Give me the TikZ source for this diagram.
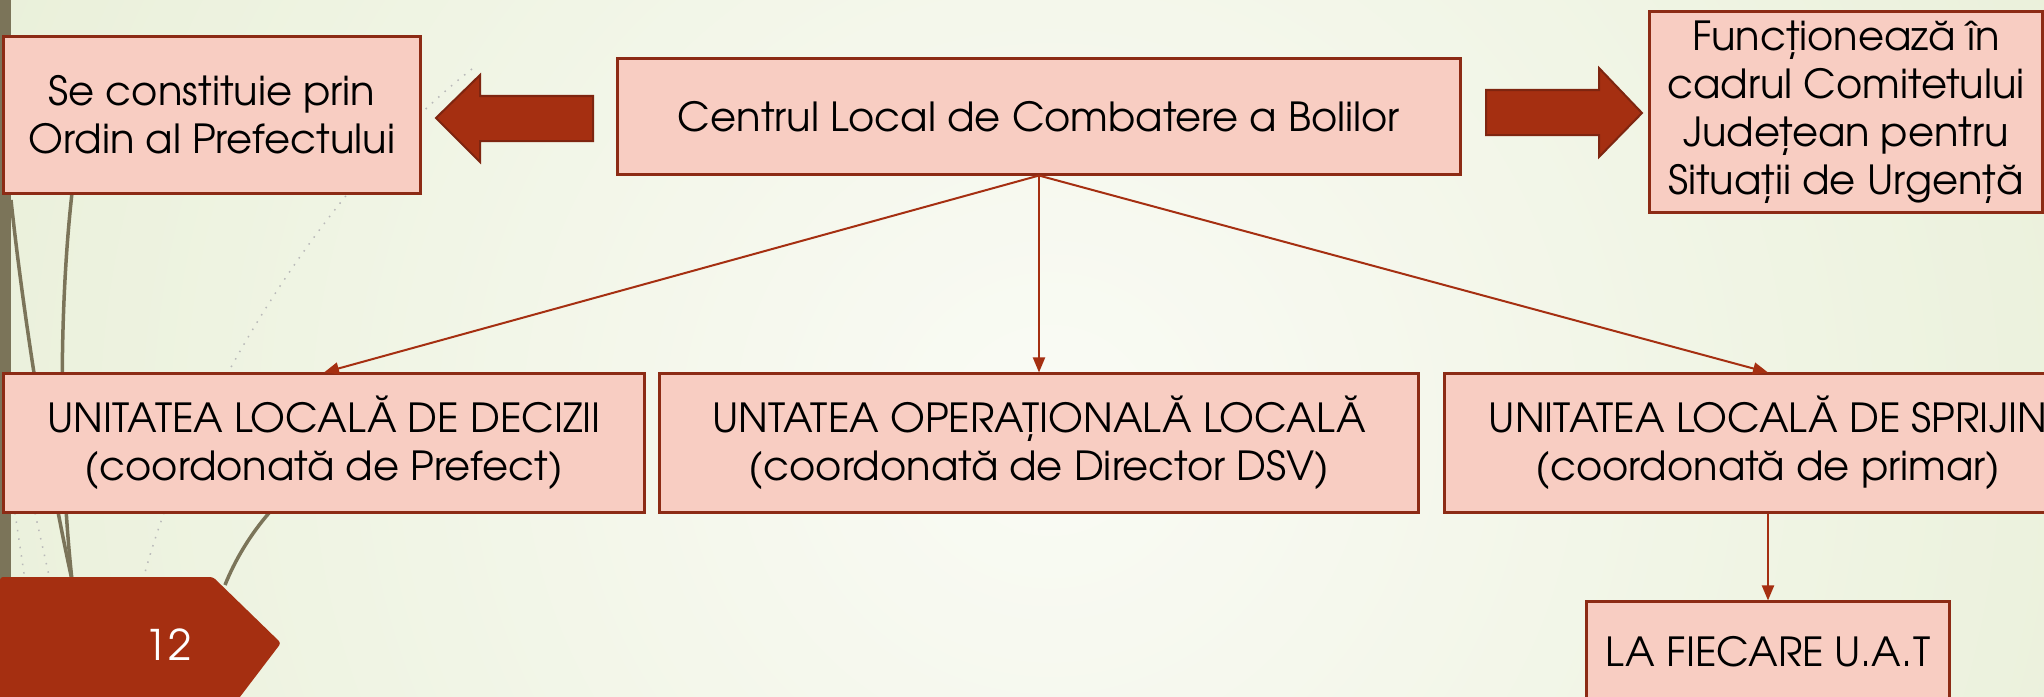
\documentclass[tikz,border=0pt]{standalone}
\usepackage{fontspec}
\setmainfont{TeX Gyre Adventor}
\usetikzlibrary{arrows.meta}
\definecolor{boxfill}{HTML}{F8CDC2}
\definecolor{boxline}{HTML}{8C2B15}
\definecolor{rust}{HTML}{A52F11}
\definecolor{rustdark}{HTML}{7E2510}
\definecolor{grass}{HTML}{7B7459}
\definecolor{bgout}{HTML}{DFE9C8}
\definecolor{bgin}{HTML}{FAFBF5}
\tikzset{
  box/.style={draw=boxline, fill=boxfill, line width=0.03cm, align=center,
    inner sep=0, font=\fontsize{11.4}{13.7}\selectfont},
  link/.style={draw=rust, line width=0.02cm, -{Triangle[length=0.15cm,width=0.12cm]}},
  bigarrow/.style={fill=rust, draw=rustdark, line width=0.02cm},
  blade/.style={draw=grass, line width=0.035cm},
  faint/.style={draw=gray!55, line width=0.015cm, dotted},
}

\begin{document}
\begin{tikzpicture}[x=0.01cm,y=-0.01cm]
  \useasboundingbox (0,0) rectangle (2044,697);
  \clip (0,0) rectangle (2044,697);
  % background
  \fill[bgout] (0,0) rectangle (2044,697);
  \shade[inner color=bgin, outer color=bgout] (1050,430) circle [radius=19cm];

  % grass on the left
  \fill[grass] (0,0) rectangle (11,697);
  \draw[blade] (11,200) .. controls (25,330) and (50,480) .. (72,580);
  \draw[blade] (72,193) .. controls (60,300) and (58,450) .. (72,580);
  \draw[blade] (269,513) .. controls (250,535) and (235,560) .. (225,585);
  \draw[faint] (472,69) .. controls (330,180) and (190,400) .. (143,580);
  \draw[faint] (15,513) -- (25,580);
  \draw[faint] (35,513) -- (50,580);

  % boxes
  \node[box, minimum width=4.16cm, minimum height=1.56cm] (pref) at (212,115)
    {Se constituie prin\\Ordin al Prefectului};
  \node[box, minimum width=8.42cm, minimum height=1.15cm] (clcb) at (1039,116.5)
    {Centrul Local de Combatere a Bolilor};
  \node[box, minimum width=3.92cm, minimum height=2.0cm] (cjsu) at (1846,112)
    {Funcționează în\\cadrul Comitetului\\Județean pentru\\Situații de Urgență};

  \node[box, minimum width=6.40cm, minimum height=1.38cm] (uld) at (324,443)
    {UNITATEA LOCALĂ DE DECIZII\\(coordonată de Prefect)};
  \node[box, minimum width=7.58cm, minimum height=1.38cm] (uol) at (1039,443)
    {UNTATEA OPERAȚIONALĂ LOCALĂ\\(coordonată de Director DSV)};
  \node[box, minimum width=6.46cm, minimum height=1.38cm] (uls) at (1768,443)
    {UNITATEA LOCALĂ DE SPRIJIN\\(coordonată de primar)};
  \node[box, minimum width=3.62cm, minimum height=1.0cm] (lafu) at (1768,652)
    {LA FIECARE U.A.T};

  % block arrows
  \coordinate (lt) at (436,118);
  \draw[bigarrow] (lt) -- ++(44,-43) -- ++(0,21) -- ++(113,0) -- ++(0,45)
    -- ++(-113,0) -- ++(0,21) -- cycle;
  \coordinate (rt) at (1642,113);
  \draw[bigarrow] (rt) -- ++(-43,-45) -- ++(0,22) -- ++(-113,0) -- ++(0,45)
    -- ++(113,0) -- ++(0,22) -- cycle;

  % links
  \draw[link] (clcb.south) -- (uld.north);
  \draw[link] (clcb.south) -- (uol.north);
  \draw[link] (clcb.south) -- (uls.north);
  \draw[link] (uls.south) -- (lafu.north);

  % page number
  \fill[rust, rounded corners=0.03cm] (0,577) -- (213,577) -- (281,643)
    -- (230,710) -- (0,710) -- cycle;
  \node[text=white, font=\fontsize{12}{12}\selectfont] (pg) at (168,645) {12};
\end{tikzpicture}
\end{document}
